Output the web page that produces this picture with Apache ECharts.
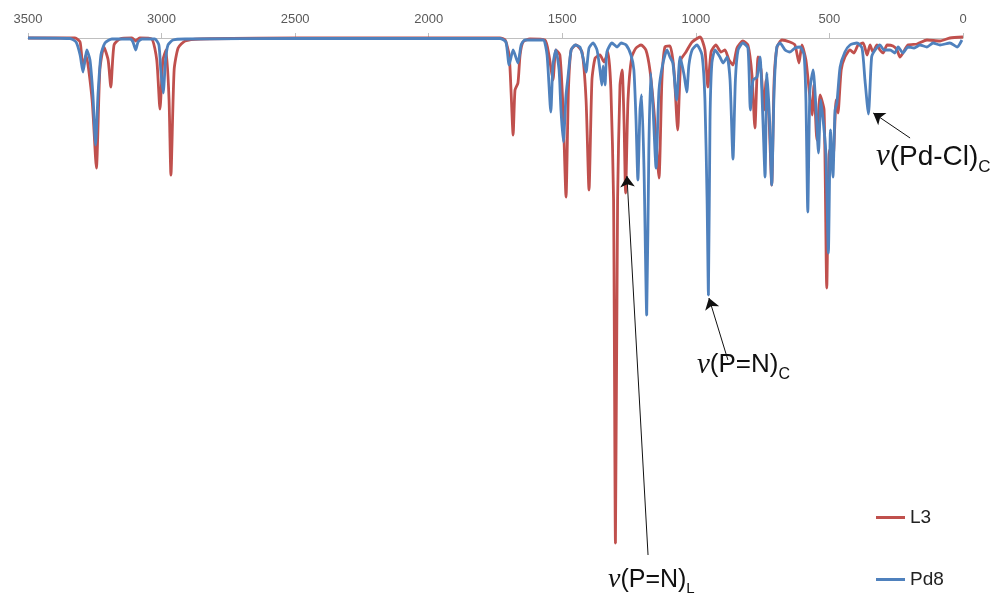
<!DOCTYPE html>
<html>
<head>
<meta charset="utf-8">
<script src="https://cdn.jsdelivr.net/npm/echarts@6/dist/echarts.min.js"></script>
<style>html,body{margin:0;padding:0;background:#fff}#c{width:996px;height:598px}</style>
</head>
<body>
<div id="c"></div>
<script>
// Wavenumber ticks (cm-1)
const xTicks = [3500, 3000, 2500, 2000, 1500, 1000, 500, 0];
const seriesNames = ['L3', 'Pd8'];
// [wavenumber, intensity] (intensity grows downward)
const l3 = [
[3500,0],[3324,0],[3305,0.8],[3294,6],[3283,3.4],[3260,12.4],[3244,26],[3231,6.4],[3216,1.8],[3200,4.4],[3190,9.8],[3178,1.4],[3156,0.2],[3111,0],[3097,0.6],[3082,0],[3037,0.2],[3018,4.4],[3006,14.2],[2995,4.4],[2983,2.4],[2972,12.4],[2965,27.4],[2953,6.4],[2938,2],[2912,0.6],[2856,0.2],[2482,0],[1733,0],[1714,0.4],[1699,3.4],[1692,10.4],[1684,19.4],[1677,10.4],[1666,9],[1658,3.4],[1647,0.8],[1621,0.2],[1565,0.4],[1550,3.4],[1535,8.4],[1524,2.4],[1509,3.4],[1497,14.4],[1486,31.8],[1477,10.4],[1467,2.4],[1449,1.4],[1426,2.8],[1411,12.4],[1400,30.4],[1389,8.4],[1377,4],[1359,3.4],[1344,4.8],[1329,2.8],[1318,10.4],[1308,32.4],[1301,101],[1293,32.4],[1284,9.4],[1276,6.4],[1269,16.4],[1263,31],[1254,12.4],[1240,3.8],[1224,2],[1205,1.4],[1187,2.4],[1172,6.4],[1157,14.4],[1149,20.4],[1138,28],[1127,8.4],[1116,1.8],[1097,1.6],[1082,6.4],[1068,18.4],[1056,4.4],[1037,2.8],[1014,0.8],[984,-0.2],[966,2.4],[955,9.8],[943,2.8],[925,1.4],[906,2.8],[891,2.4],[876,4.4],[861,5.4],[846,2],[824,0.6],[805,1.4],[790,7.4],[779,18],[767,3.8],[756,6.4],[745,14.4],[737,8.4],[726,16.4],[716,29.4],[707,8.4],[696,1.8],[678,0.4],[648,0.8],[629,1.4],[614,5],[603,1.4],[588,4.4],[576,10.4],[565,15.4],[558,9.4],[547,20.4],[535,11.4],[520,14.4],[510,50],[500,22.4],[487,24.4],[475,12.4],[468,15],[456,6.4],[442,3.8],[423,2.4],[408,3],[393,1.4],[374,1],[359,3.4],[348,1.4],[337,2.8],[322,1.4],[311,2.4],[299,3],[284,1.4],[262,1.6],[247,2.4],[236,3.8],[225,3],[206,1.4],[172,1.2],[135,0.4],[86,0.6],[49,0],[0,-0.2]
];
const pd8 = [
[3500,0],[3343,0.1],[3320,0.8],[3305,3.4],[3294,6.8],[3280,2.4],[3268,4.4],[3257,11.4],[3247,21.4],[3238,11.4],[3227,3.4],[3212,1],[3186,0.2],[3118,0.2],[3107,0.8],[3097,2.4],[3088,0.8],[3073,0.2],[3025,0.2],[3010,1.4],[3003,6.4],[2994,11],[2985,4.4],[2976,1.4],[2957,0.4],[2912,0.2],[2482,0.1],[1733,0.1],[1711,0.8],[1699,5.4],[1684,2.4],[1666,5],[1654,1.4],[1640,0.4],[1572,0.4],[1557,3.4],[1543,14.8],[1535,5.4],[1524,2.4],[1512,6.4],[1505,14.4],[1496,20.8],[1486,11.4],[1479,8],[1467,2.4],[1452,1.4],[1434,1.8],[1422,4],[1411,6.8],[1400,2],[1385,1],[1370,2.4],[1359,6.4],[1352,9.4],[1347,5.6],[1340,9.4],[1333,2.8],[1314,1],[1295,1.8],[1280,1],[1261,1.4],[1243,3.4],[1232,6.4],[1224,16.4],[1217,28.4],[1209,14.4],[1203,11.4],[1194,26.4],[1184,55.4],[1176,22.4],[1169,7],[1160,14.4],[1149,26],[1138,10.4],[1123,5],[1108,2.4],[1097,3.8],[1086,5],[1072,12.4],[1059,3.8],[1044,7.4],[1034,10.8],[1026,5.4],[1014,2.4],[996,1.4],[977,3.4],[966,12.4],[958,32.4],[953,51.4],[947,16.4],[940,5],[928,2.4],[910,3.8],[898,5],[883,3.8],[872,8.4],[861,24.2],[852,8.4],[842,2.4],[824,1],[805,2],[796,14.4],[786,8.4],[771,7.8],[760,3.8],[749,16.4],[741,27.8],[734,7],[724,16.4],[716,29.4],[707,10.4],[697,1.8],[685,1],[666,2.4],[648,2.8],[629,2],[610,1.8],[595,3.4],[588,12.4],[581,34.8],[573,10.4],[561,6.4],[550,14.4],[541,23],[532,12.4],[520,18.4],[513,23.4],[504,43],[496,18.4],[487,27.8],[479,14.4],[472,13],[460,5.8],[442,2.8],[423,1.4],[397,1],[378,2],[367,8.4],[354,15.2],[342,3.8],[329,2.4],[311,1.4],[296,2.4],[273,2.4],[255,3],[243,1.8],[225,3],[206,1.8],[183,2],[161,1.4],[135,1.8],[112,1],[86,1.4],[49,1],[22,1.8],[4,0.4]
];
// Annotations: arrow tip, arrow tail, label anchor (data coords)
const annTips  = [[1258,27.6],[951,52],[336,15]];
const annTails = [[1179,103.4],[880,64.4],[198,20]];
const annLabelAt = [[1329,108.4],[996,65.4],[326,23.8]];
const annText = [['(P=N)','L'],['(P=N)','C'],['(Pd-Cl)','C']];
const annSize = [25, 26, 28];

const chart = echarts.init(document.getElementById('c'));
const colors = ['#C0504D', '#4F81BD'];
chart.setOption({
  animation: false,
  color: colors,
  grid: {left: 28, right: 33, top: 38, bottom: 10},
  xAxis: {
    type: 'value', position: 'top', inverse: true,
    min: 0, max: 3500, interval: 500,
    axisLine: {lineStyle: {color: '#BFBFBF', width: 1}},
    axisTick: {show: true, length: 5, lineStyle: {color: '#BFBFBF'}},
    axisLabel: {color: '#595959', fontSize: 13, fontFamily: 'Liberation Sans', margin: 12,
      formatter: v => xTicks.includes(v) ? String(v) : ''},
    splitLine: {show: false}
  },
  yAxis: {type: 'value', inverse: true, min: 0, max: 110, show: false, splitLine: {show: false}},
  legend: {
    orient: 'vertical', left: 876, top: 508, itemGap: 43, padding: 0,
    itemWidth: 29, itemHeight: 3, icon: 'rect',
    textStyle: {fontSize: 19, color: '#222', fontFamily: 'Liberation Sans'},
    data: seriesNames
  },
  series: [
    {name: seriesNames[0], type: 'line', data: l3, showSymbol: false, clip: false,
     smooth: 0.2,
     lineStyle: {width: 2.8, color: colors[0]}, z: 2},
    {name: seriesNames[1], type: 'line', data: pd8, showSymbol: false, clip: false,
     smooth: 0.2,
     lineStyle: {width: 2.8, color: colors[1]}, z: 3,
     markLine: {
       silent: true, symbol: ['none', 'arrow'], symbolSize: 11,
       label: {show: false},
       lineStyle: {color: '#111', width: 1, type: 'solid'},
       data: annTips.map((t, i) => [{coord: annTails[i]}, {coord: t}])
     }}
  ]
});

const graphics = annLabelAt.map((p, i) => {
  const px = chart.convertToPixel({gridIndex: 0}, p);
  const fs = annSize[i];
  return {
    type: 'text', x: px[0], y: px[1], z: 10,
    style: {
      text: '{nu|ν}{t|' + annText[i][0] + '}{s|' + annText[i][1] + '}',
      verticalAlign: 'middle', align: 'left',
      rich: {
        nu: {fontFamily: 'Liberation Serif', fontStyle: 'italic', fontSize: Math.round(fs * 1.12), fill: '#111'},
        t: {fontFamily: 'Liberation Sans', fontSize: fs, fill: '#111'},
        s: {fontFamily: 'Liberation Sans', fontSize: Math.round(fs * 0.6), fill: '#111',
            padding: [Math.round(fs * 0.72), 0, 0, 0]}
      }
    }
  };
});
chart.setOption({graphic: graphics});
</script>
</body>
</html>
